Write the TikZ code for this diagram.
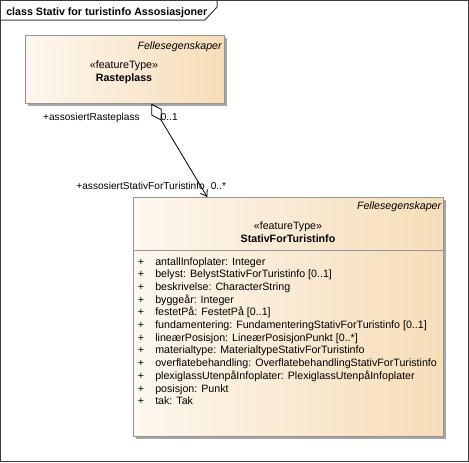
\documentclass[tikz,border=0pt]{standalone}
\usepackage{fontspec}
\setmainfont{Liberation Sans}
\usetikzlibrary{arrows.meta,shadows}
\definecolor{boxL}{RGB}{253,247,238}
\definecolor{boxR}{RGB}{246,221,184}
\definecolor{boxB}{RGB}{150,150,150}
\definecolor{shd}{RGB}{165,165,165}
\definecolor{frameC}{RGB}{60,60,60}
\begin{document}
\begin{tikzpicture}[x=0.75pt,y=-0.75pt,
  font=\fontsize{8pt}{9.6pt}\selectfont,
  umlbox/.style={draw=boxB, left color=boxL, right color=boxR, anchor=north west, inner sep=0pt,
    drop shadow={shadow xshift=2.25pt, shadow yshift=-2.25pt, fill=shd, opacity=1}},
  txt/.style={inner sep=0pt, anchor=base},
  txtl/.style={inner sep=0pt, anchor=base west},
  txtr/.style={inner sep=0pt, anchor=base east},
  lbl/.style={inner sep=0pt, font=\fontsize{7.6pt}{9pt}\selectfont},
  assoc/.style={draw=black, line width=0.6pt,
    {Diamond[open, length=15pt, width=9pt]}-{Straight Barb[length=4.5pt, width=6pt]}}]
\useasboundingbox (0,0) rectangle (469,462);
% frame
\draw[frameC, line width=0.75pt] (0.5,0.5) rectangle (468,461);
\draw[frameC, line width=0.75pt] (0.5,20) -- (205,20) -- (217,7) -- (217,0.5);
\node[txtl, font=\fontsize{8pt}{9.6pt}\selectfont\bfseries] (title) at (6,15) {class Stativ for turistinfo Assosiasjoner};
% Rasteplass
\node[umlbox, minimum width=199*0.75pt, minimum height=68*0.75pt] (ras) at (25,35) {};
\node[txtr, font=\fontsize{8pt}{9.6pt}\selectfont\itshape] (rasF) at (222,49) {Fellesegenskaper};
\node[txt] (rasS) at (124,68) {«featureType»};
\node[txt, font=\fontsize{8pt}{9.6pt}\selectfont\bfseries] (rasN) at (124,81) {Rasteplass};
% Stativ
\node[umlbox, minimum width=310*0.75pt, minimum height=239*0.75pt] (stat) at (133,197) {};
\draw[boxB] ([yshift=-53*0.75pt]stat.north west) -- ([yshift=-53*0.75pt]stat.north east);
\node[txtr, font=\fontsize{8pt}{9.6pt}\selectfont\itshape] (statF) at (441.5,209) {Fellesegenskaper};
\node[txt] (statS) at (288,229) {«featureType»};
\node[txt, font=\fontsize{8pt}{9.6pt}\selectfont\bfseries] (statN) at (288,242) {StativForTuristinfo};
\foreach \t [count=\i from 0] in {
  {antallInfoplater: Integer},
  {belyst: BelystStativForTuristinfo [0..1]},
  {beskrivelse: CharacterString},
  {byggeår: Integer},
  {festetPå: FestetPå [0..1]},
  {fundamentering: FundamenteringStativForTuristinfo [0..1]},
  {lineærPosisjon: LineærPosisjonPunkt [0..*]},
  {materialtype: MaterialtypeStativForTuristinfo},
  {overflatebehandling: OverflatebehandlingStativForTuristinfo},
  {plexiglassUtenpåInfoplater: PlexiglassUtenpåInfoplater},
  {posisjon: Punkt},
  {tak: Tak}}{
  \node[txt] (p\i) at (141,{265+12.7*\i}) {+};
  \node[txtl] (a\i) at (155,{265+12.7*\i}) {\t};
}
% association
\draw[assoc] ([xshift=26.5*0.75pt]ras.south) -- ([xshift=-81*0.75pt]stat.north);
\node[lbl, anchor=base east] (l1) at (140,120.5) {+assosiertRasteplass};
\node[lbl, anchor=base west] (m1) at (160.5,120.5) {0..1};
\node[lbl, anchor=base east] (l2) at (205,189.5) {+assosiertStativForTuristinfo};
\node[lbl, anchor=base west] (m2) at (210.5,189.5) {0..*};
\end{tikzpicture}
\end{document}
